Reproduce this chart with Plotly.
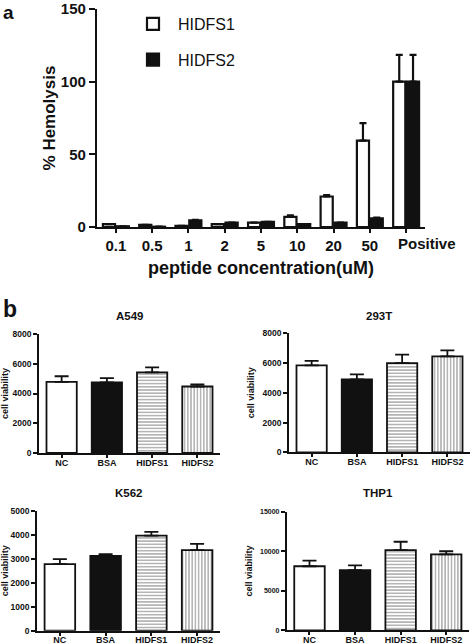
import plotly.graph_objects as go

W, H = 472, 644

# ---- Panel a data ----
conc = ["0.1", "0.5", "1", "2", "5", "10", "20", "50", "Positive"]
hidfs1 = [2.0, 1.5, 0.8, 2.0, 3.0, 7.0, 21.0, 59.5, 100.0]
hidfs1_err = [0, 0, 0, 0, 0, 1.0, 1.0, 12.0, 18.5]
hidfs2 = [0.5, 0.2, 4.5, 3.0, 3.5, 2.0, 3.0, 6.0, 100.0]
hidfs2_err = [0, 0, 0.5, 0, 0, 0, 0, 0.5, 18.5]

# ---- Panel b data ----
groups = ["NC", "BSA", "HIDFS1", "HIDFS2"]
a549 = [4780, 4750, 5420, 4470]
a549_err = [380, 280, 330, 150]
t293 = [5850, 4900, 6000, 6450]
t293_err = [300, 340, 560, 400]
k562 = [2770, 3120, 3960, 3360]
k562_err = [210, 70, 160, 260]
thp1 = [8100, 7600, 10150, 9600]
thp1_err = [700, 600, 1050, 400]

FONT = "Liberation Sans, Arial, sans-serif"

def px_x(a, b):
    return [a / W, b / W]

def px_y(top, bottom):
    return [(H - bottom) / H, (H - top) / H]

fig = go.Figure()

# Panel a traces
fig.add_trace(go.Bar(
    x=list(range(len(conc))), y=hidfs1, name="HIDFS1",
    marker=dict(color="white", line=dict(color="#111", width=2.2)),
    error_y=dict(type="data", array=hidfs1_err, arrayminus=[0] * len(conc), symmetric=False,
                 color="#111", thickness=2.2, width=3.5),
    xaxis="x", yaxis="y", legendgroup="g1"))
fig.add_trace(go.Bar(
    x=list(range(len(conc))), y=hidfs2, name="HIDFS2",
    marker=dict(color="#111", line=dict(color="#111", width=2.2)),
    error_y=dict(type="data", array=hidfs2_err, arrayminus=[0] * len(conc), symmetric=False,
                 color="#111", thickness=2.2, width=3.5),
    xaxis="x", yaxis="y", legendgroup="g2"))

# Panel b traces
colors = ["white", "#111", "white", "white"]
shapes_p = ["", "", "-", "|"]
panels = [
    (a549, a549_err, "x2", "y2"),
    (t293, t293_err, "x3", "y3"),
    (k562, k562_err, "x4", "y4"),
    (thp1, thp1_err, "x5", "y5"),
]
for vals, errs, xa, ya in panels:
    fig.add_trace(go.Bar(
        x=list(range(len(groups))), y=vals, showlegend=False,
        marker=dict(color=colors, line=dict(color="#111", width=1.8),
                    pattern=dict(shape=shapes_p, fgcolor="#222", bgcolor="white",
                                 fillmode="overlay", size=3.2, solidity=0.4)),
        error_y=dict(type="data", array=errs, arrayminus=[0] * 4, symmetric=False,
                     color="#111", thickness=1.8, width=7),
        xaxis=xa, yaxis=ya))

axis_common = dict(showline=True, linecolor="#111", showgrid=False, zeroline=False,
                   ticks="outside", tickcolor="#111", automargin=False)

layout = dict(
    width=W, height=H, margin=dict(l=0, r=0, t=0, b=0),
    paper_bgcolor="white", plot_bgcolor="white",
    barmode="group", bargap=0.24, bargroupgap=0.12,
    font=dict(family=FONT, color="#111"),
    showlegend=True,
    legend=dict(x=128 / W, y=(H - 7) / H, xanchor="left", yanchor="top",
                font=dict(size=16, family=FONT, color="#111"),
                bgcolor="rgba(0,0,0,0)", traceorder="grouped", tracegroupgap=12,
                itemwidth=40),
)

# Panel a axes (last label placed as an annotation, offset like the original)
layout["xaxis"] = dict(axis_common, domain=px_x(97, 425), range=[-0.52, 8.52],
                       tickmode="array", tickvals=list(range(len(conc))),
                       ticktext=conc[:-1] + [""], tickangle=0,
                       ticklen=4, tickwidth=2, linewidth=2.2,
                       tickfont=dict(size=15, weight="bold"),
                       title=dict(text="peptide concentration(uM)", standoff=8,
                                  font=dict(size=18, weight="bold")),
                       anchor="y")
layout["yaxis"] = dict(axis_common, domain=px_y(9, 227), range=[0, 150],
                       tickvals=[0, 50, 100, 150], ticklen=6, tickwidth=2, linewidth=2.2,
                       tickfont=dict(size=15, weight="bold"),
                       title=dict(text="% Hemolysis", standoff=1,
                                  font=dict(size=17, weight="bold")),
                       anchor="x")

# Panel b axes
b_specs = [
    ("2", (39, 220), (334, 453), [0, 8000], 2000, 8.5, 6),
    ("3", (289, 470), (333.3, 452.3), [0, 8000], 2000, 8.5, 6),
    ("4", (37, 220), (510.7, 630.7), [0, 5000], 1000, 8.5, 6),
    ("5", (286.7, 469), (511.7, 630.3), [0, 15000], 5000, 7, 6),
]
for n, (xl, xr), (yt, yb), yr, dt, yfs, sto in b_specs:
    layout["xaxis" + n] = dict(axis_common, domain=px_x(xl, xr), range=[-0.5, 3.5],
                               tickmode="array", tickvals=list(range(4)), ticktext=groups,
                               tickangle=0, ticklen=3, tickwidth=1.5, linewidth=1.6,
                               ticklabelstandoff=-3,
                               tickfont=dict(size=9, weight="bold"), anchor="y" + n)
    layout["yaxis" + n] = dict(axis_common, domain=px_y(yt, yb), range=yr, dtick=dt,
                               tickformat="d",
                               ticklen=4, tickwidth=1.5, linewidth=1.6,
                               tickfont=dict(size=yfs, weight="bold"),
                               title=dict(text="cell viability", standoff=sto,
                                          font=dict(size=9, weight="bold")),
                               anchor="x" + n)

fig.update_layout(**layout)

fig.add_annotation(text=conc[-1], x=len(conc) - 1, y=0, xref="x", yref="y",
                   showarrow=False, xanchor="center", yanchor="top", xshift=21, yshift=-6,
                   font=dict(size=15, weight="bold", family=FONT, color="#111"))

# Subplot titles and panel letters
titles = [("A549", 129.5, 316), ("293T", 379, 316), ("K562", 128.5, 493), ("THP1", 378, 493)]
for t, x, y in titles:
    fig.add_annotation(text=t, x=x / W, y=(H - y) / H, xref="paper", yref="paper",
                       showarrow=False, xanchor="center", yanchor="middle",
                       font=dict(size=11.5, weight="bold", family=FONT, color="#111"))
fig.add_annotation(text="a", x=1 / W, y=1, xref="paper", yref="paper",
                   showarrow=False, xanchor="left", yanchor="top",
                   font=dict(size=19, weight="bold", family=FONT, color="#111"))
fig.add_annotation(text="b", x=1 / W, y=(H - 309) / H, xref="paper", yref="paper",
                   showarrow=False, xanchor="left", yanchor="middle",
                   font=dict(size=23, weight="bold", family=FONT, color="#111"))

fig.write_html("out.html", config={"displayModeBar": False},
               post_script="document.body.style.margin='0';document.body.style.overflow='hidden';")
